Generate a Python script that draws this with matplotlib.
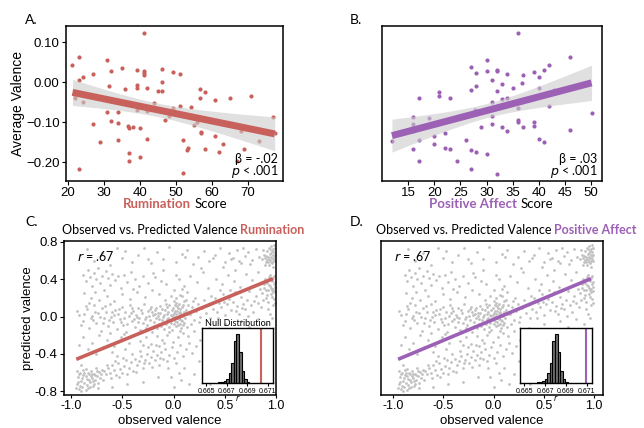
import numpy as np
import matplotlib.pyplot as plt

RED = '#c8615b'
PURPLE = '#9c60b5'
GREY_PTS = '#c2c2c2'

# --- panel A: rumination score vs average valence ---
rum_score = [21.2, 22.9, 23.0, 24.0, 21.6, 22.0, 24.0, 23.0, 26.9, 26.9, 28.8, 30.9, 31.9, 31.4,
             30.8, 32.0, 34.9, 35.9, 33.9, 33.9, 33.9, 36.5, 37.0, 38.0, 37.0, 37.0, 39.0, 39.0,
             39.0, 39.0, 40.0, 40.0, 41.0, 41.0, 41.0, 41.0, 41.9, 41.9, 41.9, 43.9, 45.0, 46.0,
             46.0, 46.0, 46.9, 48.0, 49.0, 49.0, 51.0, 51.0, 51.9, 51.9, 53.1, 53.4, 54.0, 55.0,
             55.9, 56.6, 56.6, 56.9, 56.9, 58.0, 58.0, 60.9, 60.9, 61.9, 63.0, 64.9, 66.9, 68.0,
             69.0, 70.9, 73.0, 76.9, 77.4]
rum_valence = [0.043, 0.063, 0.006, 0.013, -0.028, -0.038, -0.048, -0.216, 0.022, -0.104, -0.149,
               0.056, 0.028, -0.008, -0.075, -0.098, 0.037, -0.017, -0.074, -0.101, -0.144, -0.109,
               -0.114, -0.111, -0.178, -0.196, 0.031, -0.007, -0.013, -0.069, -0.114, -0.188, 0.123,
               0.028, 0.023, 0.018, -0.015, -0.072, -0.143, -0.051, -0.021, 0.033, 0.000, -0.021,
               -0.094, -0.085, 0.025, -0.065, 0.021, -0.059, -0.145, -0.228, -0.170, -0.164, -0.063,
               -0.106, -0.100, -0.017, -0.040, -0.124, -0.128, -0.024, -0.167, -0.043, -0.135,
               -0.175, -0.154, -0.040, -0.196, -0.121, -0.167, -0.034, -0.147, -0.086, -0.128]

# --- panel B: positive affect score vs average valence ---
pa_score = [11.9, 16.0, 16.0, 16.0, 16.0, 16.0, 17.0, 17.0, 17.0, 19.0, 20.0, 20.0, 20.9, 20.9,
            22.0, 22.0, 23.0, 23.0, 24.4, 26.0, 27.0, 27.0, 27.0, 27.0, 28.0, 28.0, 27.8, 28.0,
            29.0, 30.0, 30.0, 30.0, 31.0, 31.0, 31.0, 31.0, 32.0, 32.0, 32.0, 32.0, 33.0, 33.0,
            33.0, 34.0, 34.0, 34.0, 35.0, 36.0, 36.0, 36.0, 36.0, 36.7, 37.0, 37.0, 39.0, 39.0,
            39.0, 40.0, 40.0, 40.0, 41.0, 41.0, 42.0, 42.0, 43.0, 46.0, 46.0, 50.1]
pa_valence = [-0.148, -0.086, -0.105, -0.111, -0.121, -0.167, -0.040, -0.145, -0.196, -0.089,
              -0.135, -0.154, -0.023, -0.034, -0.126, -0.165, -0.040, -0.167, -0.196, -0.145,
              0.038, -0.020, -0.169, -0.216, 0.023, -0.008, -0.069, -0.175, -0.112, 0.056, 0.028,
              -0.179, 0.007, -0.048, -0.084, -0.104, 0.031, 0.028, -0.021, -0.229, -0.005, -0.042,
              -0.113, 0.021, -0.039, -0.121, -0.015, 0.124, -0.065, -0.094, -0.100, -0.001, 0.018,
              -0.112, 0.026, -0.099, -0.109, 0.013, -0.013, -0.143, 0.032, -0.150, 0.043, -0.059,
              -0.018, 0.063, -0.119, -0.076]

# --- panels C/D: observed vs predicted valence (same points in both) ---
center_pts = [(-0.02, 0.01), (0.03, -0.02), (0.05, 0.04), (-0.06, -0.03), (0.01, 0.06), (0.08, -0.05),
              (-0.09, 0.02), (0.04, -0.09), (-0.03, -0.07), (0.06, 0.08), (0.00, -0.01), (-0.05, 0.05),
              (0.09, 0.01), (-0.11, -0.04), (0.02, 0.03), (0.07, -0.12), (-0.04, -0.11), (0.10, 0.05),
              (-0.08, 0.07), (0.01, -0.05), (0.05, -0.03), (-0.01, 0.09), (0.03, 0.11), (-0.07, -0.08),
              (0.08, 0.10), (-0.02, -0.14), (0.04, 0.00), (-0.10, 0.00), (0.06, -0.08), (0.00, 0.04),
              (-0.05, -0.01), (0.02, -0.10), (0.11, -0.02), (-0.13, 0.04), (0.07, 0.03), (-0.03, 0.02),
              (0.05, 0.13), (-0.06, 0.10), (0.09, -0.09), (0.01, 0.00), (-0.01, -0.03), (0.03, 0.06),
              (-0.08, -0.06), (0.12, 0.07), (-0.04, 0.12), (0.06, -0.15), (-0.12, -0.10), (0.02, 0.15),
              (0.08, 0.02), (-0.06, 0.03), (0.00, -0.08), (0.04, 0.09), (-0.09, -0.13), (0.10, -0.07),
              (-0.02, 0.07), (0.05, -0.01), (-0.15, 0.01), (0.14, 0.03), (-0.03, -0.04), (0.01, 0.12),
              (0.07, -0.04), (-0.07, 0.14), (0.03, -0.06), (-0.01, 0.02), (0.09, 0.12), (-0.11, 0.08),
              (0.06, 0.05), (0.00, 0.17), (-0.04, -0.17), (0.13, -0.11), (0.02, 0.20), (0.06, 0.23),
              (0.10, 0.17), (0.13, 0.26), (-0.03, 0.22), (0.08, 0.30), (-0.08, 0.18)]
left_band_pts = [(-0.92, 0.02), (-0.88, -0.05), (-0.85, 0.08), (-0.83, -0.12), (-0.80, 0.01), (-0.78, 0.12),
                 (-0.76, -0.07), (-0.74, 0.04), (-0.71, -0.15), (-0.70, 0.09), (-0.68, -0.02), (-0.66, 0.05),
                 (-0.64, -0.10), (-0.62, 0.14), (-0.61, 0.00), (-0.59, -0.06), (-0.57, 0.07), (-0.55, -0.13),
                 (-0.54, 0.03), (-0.52, -0.03), (-0.50, 0.10), (-0.49, -0.09), (-0.47, 0.05), (-0.46, -0.17),
                 (-0.44, 0.01), (-0.43, 0.12), (-0.41, -0.05), (-0.40, 0.06), (-0.38, -0.11), (-0.37, 0.02),
                 (-0.35, 0.09), (-0.34, -0.02), (-0.33, -0.14), (-0.31, 0.04), (-0.30, -0.07), (-0.29, 0.13),
                 (-0.27, 0.00), (-0.26, -0.09), (-0.25, 0.06), (-0.23, -0.04), (-0.22, 0.10), (-0.21, -0.16),
                 (-0.20, 0.02), (-0.19, -0.06), (-0.18, 0.07), (-0.17, -0.01), (-0.16, -0.12), (-0.15, 0.04),
                 (-0.90, -0.09), (-0.86, 0.11), (-0.81, -0.02), (-0.77, 0.05), (-0.72, 0.00), (-0.67, 0.11),
                 (-0.63, -0.04), (-0.58, 0.02), (-0.53, 0.08), (-0.48, -0.01), (-0.45, -0.08), (-0.42, 0.04),
                 (-0.39, -0.03), (-0.36, 0.00), (-0.32, 0.07), (-0.28, -0.03), (-0.24, 0.01), (-0.21, 0.05),
                 (-0.19, -0.10), (-0.17, 0.09), (-0.14, -0.03), (-0.13, 0.11), (-0.14, -0.08), (-0.18, 0.03),
                 (-0.23, 0.08), (-0.27, -0.12), (-0.35, -0.06), (-0.41, 0.09), (-0.51, -0.06), (-0.60, 0.05),
                 (-0.69, -0.07), (-0.79, -0.04), (-0.87, 0.03), (-0.94, 0.06)]
right_band_pts = [(0.16, 0.03), (0.18, 0.10), (0.20, -0.04), (0.22, 0.06), (0.24, 0.14), (0.26, 0.00),
                  (0.28, 0.09), (0.30, 0.18), (0.32, 0.04), (0.34, 0.12), (0.36, -0.02), (0.38, 0.08),
                  (0.40, 0.20), (0.42, 0.05), (0.44, 0.15), (0.46, 0.10), (0.48, 0.24), (0.50, 0.02),
                  (0.52, 0.13), (0.54, 0.19), (0.56, 0.07), (0.58, 0.16), (0.60, 0.26), (0.62, 0.11),
                  (0.64, 0.03), (0.66, 0.21), (0.68, 0.14), (0.70, 0.08), (0.72, 0.18), (0.74, 0.27),
                  (0.76, 0.12), (0.78, 0.05), (0.80, 0.22), (0.82, 0.15), (0.84, 0.30), (0.19, 0.17),
                  (0.25, -0.06), (0.31, 0.11), (0.37, 0.22), (0.43, -0.01), (0.49, 0.16), (0.55, 0.28),
                  (0.61, 0.06), (0.67, 0.09), (0.73, 0.01), (0.79, 0.17), (0.14, 0.12), (0.17, -0.08),
                  (0.21, 0.20), (0.12, 0.18)]
right_mid_pts = [(0.86, 0.25), (0.88, 0.31), (0.90, 0.20), (0.91, 0.36), (0.92, 0.28), (0.93, 0.42),
                 (0.94, 0.33), (0.95, 0.24), (0.96, 0.38), (0.97, 0.30), (0.98, 0.35), (0.99, 0.27),
                 (0.87, 0.18), (0.89, 0.40), (0.92, 0.16), (0.94, 0.45), (0.96, 0.21), (0.97, 0.41),
                 (0.98, 0.19), (0.99, 0.37), (0.90, 0.29), (0.93, 0.34), (0.95, 0.31), (0.97, 0.26),
                 (0.98, 0.44), (0.88, 0.35), (0.91, 0.23), (0.95, 0.39), (0.99, 0.32), (0.96, 0.28),
                 (0.85, 0.10), (0.92, 0.08), (0.97, 0.12), (0.94, 0.03), (0.99, 0.15)]
right_top_pts = [(0.86, 0.62), (0.88, 0.66), (0.90, 0.59), (0.91, 0.70), (0.92, 0.64), (0.93, 0.74),
                 (0.94, 0.61), (0.95, 0.68), (0.96, 0.57), (0.97, 0.72), (0.98, 0.65), (0.99, 0.60),
                 (0.87, 0.71), (0.89, 0.63), (0.92, 0.58), (0.94, 0.67), (0.95, 0.76), (0.96, 0.63),
                 (0.97, 0.60), (0.98, 0.69), (0.99, 0.66), (0.90, 0.65), (0.93, 0.62), (0.95, 0.64),
                 (0.97, 0.66), (0.98, 0.62), (0.96, 0.70), (0.91, 0.61), (0.94, 0.72), (0.99, 0.73),
                 (0.93, 0.55), (0.97, 0.53), (0.89, 0.55), (0.95, 0.58), (0.98, 0.77)]
top_band_pts = [(-0.85, 0.72), (-0.78, 0.60), (-0.70, 0.68), (-0.62, 0.55), (-0.55, 0.74), (-0.50, 0.63),
                (-0.47, 0.70), (-0.41, 0.58), (-0.35, 0.66), (-0.29, 0.73), (-0.22, 0.57), (-0.16, 0.69),
                (-0.10, 0.62), (-0.04, 0.75), (0.02, 0.59), (0.08, 0.67), (0.13, 0.71), (0.19, 0.56),
                (0.24, 0.64), (0.30, 0.70), (0.35, 0.60), (0.40, 0.66), (0.45, 0.73), (0.50, 0.58),
                (0.54, 0.68), (0.58, 0.63), (0.62, 0.71), (0.66, 0.57), (0.70, 0.65), (0.73, 0.69),
                (0.77, 0.61), (0.80, 0.72), (0.83, 0.64), (0.27, 0.52), (0.48, 0.53), (0.64, 0.60),
                (0.75, 0.56), (0.68, 0.74), (0.56, 0.62), (0.38, 0.63), (0.11, 0.64), (-0.25, 0.62)]
upper_pts = [(-0.88, 0.45), (-0.86, 0.38), (-0.84, 0.50), (-0.82, 0.42), (-0.80, 0.33), (-0.78, 0.47),
             (-0.76, 0.40), (-0.74, 0.52), (-0.72, 0.36), (-0.70, 0.44), (-0.68, 0.28), (-0.66, 0.49),
             (-0.64, 0.41), (-0.62, 0.34), (-0.60, 0.46), (-0.57, 0.39), (-0.54, 0.43), (-0.51, 0.31),
             (-0.48, 0.45), (-0.45, 0.37), (-0.42, 0.48), (-0.38, 0.40), (-0.34, 0.33), (-0.30, 0.44),
             (-0.87, 0.25), (-0.83, 0.15), (-0.81, 0.20), (-0.77, 0.26), (-0.73, 0.18), (-0.65, 0.22),
             (-0.58, 0.17), (-0.50, 0.24), (-0.43, 0.19), (-0.36, 0.26), (-0.28, 0.21), (-0.21, 0.29),
             (-0.14, 0.24), (-0.07, 0.35), (0.00, 0.28), (0.05, 0.40), (-0.18, 0.42), (-0.10, 0.50),
             (0.08, 0.22), (-0.25, 0.36), (-0.40, 0.30), (-0.20, 0.47), (-0.12, 0.38), (0.02, 0.45),
             (0.10, 0.33), (0.16, 0.43), (0.23, 0.37), (0.29, 0.48), (0.34, 0.31), (0.41, 0.40),
             (0.47, 0.35), (0.53, 0.45), (0.59, 0.38), (0.65, 0.32), (0.71, 0.46), (0.77, 0.39),
             (0.82, 0.48), (0.45, 0.28), (0.60, 0.50)]
bottom_left_pts = [(-0.94, -0.72), (-0.93, -0.65), (-0.92, -0.78), (-0.91, -0.60), (-0.90, -0.69),
                   (-0.89, -0.75), (-0.88, -0.63), (-0.87, -0.71), (-0.86, -0.56), (-0.85, -0.67),
                   (-0.84, -0.77), (-0.83, -0.62), (-0.82, -0.70), (-0.81, -0.58), (-0.80, -0.66),
                   (-0.79, -0.74), (-0.78, -0.61), (-0.77, -0.68), (-0.76, -0.55), (-0.75, -0.64),
                   (-0.74, -0.71), (-0.73, -0.59), (-0.72, -0.66), (-0.71, -0.62), (-0.70, -0.57),
                   (-0.93, -0.70), (-0.91, -0.74), (-0.89, -0.66), (-0.87, -0.60), (-0.85, -0.73),
                   (-0.83, -0.68), (-0.81, -0.64), (-0.79, -0.69), (-0.77, -0.63), (-0.75, -0.58),
                   (-0.92, -0.62), (-0.90, -0.80), (-0.88, -0.57), (-0.86, -0.64), (-0.84, -0.60),
                   (-0.82, -0.75), (-0.80, -0.61), (-0.78, -0.72), (-0.94, -0.58), (-0.95, -0.76),
                   (-0.90, -0.52), (-0.86, -0.79), (-0.74, -0.76), (-0.69, -0.68)]
bottom_band_pts = [(-0.68, -0.58), (-0.66, -0.62), (-0.64, -0.55), (-0.62, -0.60), (-0.60, -0.52),
                   (-0.58, -0.57), (-0.56, -0.63), (-0.54, -0.50), (-0.52, -0.56), (-0.50, -0.60),
                   (-0.48, -0.53), (-0.46, -0.47), (-0.44, -0.55), (-0.42, -0.49), (-0.40, -0.58),
                   (-0.38, -0.45), (-0.36, -0.52), (-0.34, -0.48), (-0.32, -0.42), (-0.30, -0.55),
                   (-0.28, -0.46), (-0.26, -0.40), (-0.24, -0.50), (-0.22, -0.43), (-0.20, -0.37),
                   (-0.18, -0.47), (-0.16, -0.41), (-0.14, -0.52), (-0.12, -0.38), (-0.10, -0.45),
                   (-0.08, -0.35), (-0.06, -0.48), (-0.04, -0.41), (-0.02, -0.33), (0.00, -0.44),
                   (0.03, -0.38), (0.06, -0.30), (0.09, -0.42), (0.12, -0.35), (0.15, -0.28),
                   (0.18, -0.39), (0.22, -0.32), (0.26, -0.25), (0.30, -0.36), (-0.65, -0.52),
                   (-0.61, -0.66), (-0.57, -0.48), (-0.53, -0.65), (-0.49, -0.44), (-0.45, -0.61),
                   (-0.41, -0.40), (-0.37, -0.59), (-0.33, -0.37), (-0.29, -0.50), (-0.25, -0.33),
                   (-0.21, -0.54), (-0.17, -0.30), (-0.13, -0.44), (-0.09, -0.28), (-0.05, -0.55),
                   (0.02, -0.50), (0.05, -0.60), (0.07, -0.68), (-0.03, -0.65), (0.10, -0.55)]
sparse_pts = [(-0.88, -0.22), (-0.80, -0.28), (-0.73, -0.20), (-0.65, -0.25), (-0.58, -0.31), (-0.51, -0.22),
              (-0.44, -0.28), (-0.39, -0.20), (-0.33, -0.26), (-0.27, -0.22), (-0.22, -0.29), (-0.16, -0.21),
              (-0.11, -0.25), (-0.06, -0.20), (-0.01, -0.27), (-0.84, -0.35), (-0.76, -0.40), (-0.69, -0.33),
              (-0.60, -0.38), (-0.55, -0.42), (-0.47, -0.35), (-0.30, -0.30), (-0.14, -0.31), (0.04, -0.22),
              (0.09, -0.18), (0.14, -0.21), (0.20, -0.15), (-0.48, -0.19), (-0.62, -0.18), (-0.92, -0.30),
              (0.35, -0.12), (0.42, -0.20), (0.50, -0.08), (0.58, -0.15), (0.66, -0.05), (0.74, -0.11),
              (0.82, -0.03), (0.90, -0.08), (0.96, -0.02), (0.38, -0.30), (0.45, -0.42), (0.33, -0.50),
              (0.40, -0.62), (0.36, -0.72), (0.30, -0.58), (0.55, -0.35), (0.62, -0.25), (0.70, -0.30),
              (0.88, -0.18), (0.95, -0.25), (0.25, -0.48), (0.20, -0.62), (-0.30, -0.70), (-0.15, -0.65),
              (0.00, -0.75), (0.15, -0.72), (-0.45, -0.72), (-0.60, -0.75)]

# fitted line for observed vs predicted
fit_xrange = [-0.95, 0.97]
fit_intercept = -0.03
fit_slope = 0.45

# null distribution of r (inset histograms)
null_edges = [0.66620, 0.66645, 0.66670, 0.66695, 0.66720, 0.66745, 0.66770, 0.66795,
              0.66820, 0.66845, 0.66870, 0.66895, 0.66920]
null_counts = [2, 3, 4, 10, 22, 45, 95, 112, 70, 28, 9, 3]
obs_r_rum = 0.6703
obs_r_pa = 0.6709

plt.rcParams['font.family'] = ['Liberation Sans', 'DejaVu Sans']
TITLE_FONT = ['Lato', 'DejaVu Sans']

fig = plt.figure(figsize=(6.44, 4.28), dpi=100)
W, H = 644.0, 428.0


def px_axes(left, top, right, bottom):
    return fig.add_axes([left / W, 1 - bottom / H, (right - left) / W, (bottom - top) / H])


def reg_panel(ax, x, y, color):
    x = np.asarray(x)
    y = np.asarray(y)
    ax.scatter(x, y, s=9, color=color, linewidths=0, zorder=2)
    b, a = np.polyfit(x, y, 1)
    xs = np.linspace(x.min(), x.max(), 100)
    ys = a + b * xs
    n = len(x)
    s = np.sqrt(np.sum((y - (a + b * x)) ** 2) / (n - 2))
    se = s * np.sqrt(1 / n + (xs - x.mean()) ** 2 / np.sum((x - x.mean()) ** 2))
    ax.fill_between(xs, ys - 1.99 * se, ys + 1.99 * se, color='#cccccc', alpha=0.6, lw=0, zorder=3)
    ax.plot(xs, ys, color=color, lw=5, solid_capstyle='butt', zorder=4)
    ax.set_ylim(-0.247, 0.141)
    ax.set_yticks([-0.2, -0.1, 0.0, 0.1])
    ax.tick_params(labelsize=9.5, length=3, pad=1.5)
    for sp in ax.spines.values():
        sp.set_linewidth(1.1)


axA = px_axes(66, 26, 283, 181)
reg_panel(axA, rum_score, rum_valence, RED)
axA.set_xlim(19.4, 79.7)
axA.set_xticks([20, 30, 40, 50, 60, 70])
axA.set_yticklabels([f"{v:.2f}".replace('-', '\u2212') for v in [-0.2, -0.1, 0.0, 0.1]])
axA.set_ylabel('Average Valence', fontsize=10, labelpad=1)

axB = px_axes(382, 26, 602, 181)
reg_panel(axB, pa_score, pa_valence, PURPLE)
axB.set_xlim(10.0, 52.1)
axB.set_xticks([15, 20, 25, 30, 35, 40, 45, 50])
axB.tick_params(left=False, labelleft=False)

for ax, beta, xr in [(axA, '\u03b2 = -.02', 278), (axB, '\u03b2 = .03', 597)]:
    fig.text(xr / W, 1 - 159 / H, beta, ha='right', va='center', fontsize=9, family=TITLE_FONT)
    fig.text(xr / W, 1 - 172 / H, '$p$ < .001', ha='right', va='center', fontsize=9, family=TITLE_FONT)

# two-colour x labels
fig.text(191 / W, 1 - 204 / H, 'Rumination', ha='right', va='center', fontsize=9.5,
         color=RED, weight='bold', family=TITLE_FONT)
fig.text(195 / W, 1 - 204 / H, 'Score', ha='left', va='center', fontsize=9.5, family=TITLE_FONT)
fig.text(517 / W, 1 - 204 / H, 'Positive Affect', ha='right', va='center', fontsize=9.5,
         color=PURPLE, weight='bold', family=TITLE_FONT)
fig.text(521 / W, 1 - 204 / H, 'Score', ha='left', va='center', fontsize=9.5, family=TITLE_FONT)

# observed vs predicted panels
all_pts = np.array(center_pts + left_band_pts + right_band_pts + right_mid_pts + right_top_pts
                   + top_band_pts + upper_pts + bottom_left_pts + bottom_band_pts + sparse_pts)
obs_x = all_pts[:, 0]
pred_y = all_pts[:, 1]


def pred_panel(ax, color, xlim):
    ax.scatter(obs_x, pred_y, s=4, color=GREY_PTS, linewidths=0, zorder=1)
    fx = np.array(fit_xrange)
    ax.plot(fx, fit_intercept + fit_slope * fx, color=color, lw=2.6, solid_capstyle='butt', zorder=3)
    ax.set_xlim(*xlim)
    ax.set_ylim(-0.84, 0.81)
    ax.set_xticks([-1.0, -0.5, 0.0, 0.5, 1.0])
    ax.set_xticklabels([f"{v:.1f}" for v in [-1.0, -0.5, 0.0, 0.5, 1.0]])
    ax.set_yticks([-0.8, -0.4, 0.0, 0.4, 0.8])
    ax.tick_params(labelsize=9.5, length=3, pad=1.5)
    ax.tick_params(axis='x', labelsize=9, length=2.5, pad=1)
    ax.text(0.06, 0.9, '$r$ = .67', transform=ax.transAxes, fontsize=9, family=TITLE_FONT,
            va='center', ha='left')
    for sp in ax.spines.values():
        sp.set_linewidth(1.1)


axC = px_axes(64, 241, 276, 395)
pred_panel(axC, RED, (-1.07, 1.0))
axC.set_yticklabels([f"{v:.1f}" for v in [-0.8, -0.4, 0.0, 0.4, 0.8]])
axC.set_ylabel('predicted valence', fontsize=9.5, labelpad=0.5)

axD = px_axes(381, 241, 603, 395)
pred_panel(axD, PURPLE, (-1.12, 1.09))
axD.tick_params(left=False, labelleft=False)

for cx in [170, 492]:
    fig.text(cx / W, 1 - 427.5 / H, 'observed valence', ha='center', va='bottom', fontsize=9.5)

fig.text(237 / W, 1 - 230 / H, 'Observed vs. Predicted Valence', ha='right', va='center',
         fontsize=9, family=TITLE_FONT)
fig.text(240 / W, 1 - 230 / H, 'Rumination', ha='left', va='center', fontsize=9,
         color=RED, weight='bold', family=TITLE_FONT)
fig.text(551 / W, 1 - 230 / H, 'Observed vs. Predicted Valence', ha='right', va='center',
         fontsize=9, family=TITLE_FONT)
fig.text(554 / W, 1 - 230 / H, 'Positive Affect', ha='left', va='center', fontsize=9,
         color=PURPLE, weight='bold', family=TITLE_FONT)


def null_inset(left, right, color, r_obs, title):
    ax = px_axes(left, 328, right, 383)
    centers = (np.array(null_edges[:-1]) + np.array(null_edges[1:])) / 2
    ax.hist(centers, bins=null_edges, weights=null_counts, color='#6e6e6e', edgecolor='black', lw=0.8)
    ax.axvline(r_obs, color=color, lw=1.5)
    ax.set_xlim(0.6646, 0.6715)
    ax.set_ylim(0, 125)
    ax.set_yticks([])
    ax.set_xticks([0.665, 0.667, 0.669, 0.671])
    ax.set_xticklabels(['0.665', '0.667', '0.669', '0.671'])
    ax.tick_params(labelsize=5, length=2, pad=1.5)
    ax.set_xlabel('$r$', fontsize=5.5, labelpad=-1)
    ax.set_facecolor('white')
    for sp in ax.spines.values():
        sp.set_linewidth(1.0)
    if title:
        ax.set_title(title, fontsize=6.5, pad=1.5, family=TITLE_FONT)
    return ax


null_inset(202, 273, RED, obs_r_rum, 'Null Distribution')
null_inset(520, 592, PURPLE, obs_r_pa, None)

for lab, x, y in [('A.', 25, 20), ('B.', 350, 20), ('C.', 25, 222), ('D.', 350, 222)]:
    fig.text(x / W, 1 - y / H, lab, ha='left', va='center', fontsize=10, family=TITLE_FONT)

fig.savefig('out.png', dpi=100)
plt.close(fig)
